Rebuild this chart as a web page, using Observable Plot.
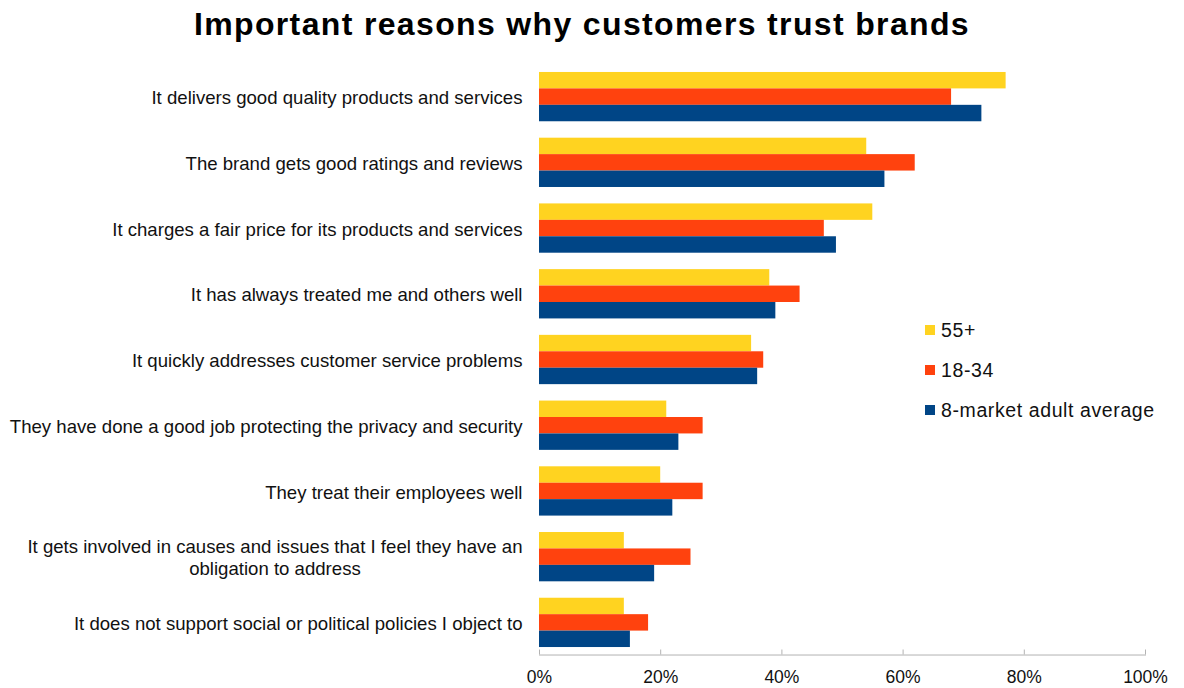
<!DOCTYPE html>
<html><head><meta charset="utf-8">
<script src="https://cdn.jsdelivr.net/npm/d3@7"></script>
<script src="https://cdn.jsdelivr.net/npm/@observablehq/plot@0.6"></script>
<style>
body{margin:0;background:#fff;font-family:"Liberation Sans",Arial,sans-serif;}
#wrap{position:relative;width:1184px;height:688px;overflow:hidden;}
#title{height:56px;margin:0;padding:1px 20px 0 0;box-sizing:border-box;text-align:center;font-weight:bold;font-size:32px;letter-spacing:1.35px;line-height:46px;color:#000;}
#legend{position:absolute;left:925px;top:310px;font-size:19.5px;letter-spacing:0.6px;color:#111;}
#legend .row{height:40px;display:flex;align-items:center;}
#legend .sw{width:10px;height:10px;margin-right:6px;}
#chart svg{display:block;}
</style>
</head><body>
<div id="wrap">
<div id="title">Important reasons why customers trust brands</div>
<div id="chart"></div>
<div id="legend"></div>
</div>
<script>
const categories = [
  "It delivers good quality products and services",
  "The brand gets good ratings and reviews",
  "It charges a fair price for its products and services",
  "It has always treated me and others well",
  "It quickly addresses customer service problems",
  "They have done a good job protecting the privacy and security",
  "They treat their employees well",
  "It gets involved in causes and issues that I feel they have an\nobligation to address",
  "It does not support social or political policies I object to"
];
const seriesNames = ["55+", "18-34", "8-market adult average"];
const seriesColors = ["#FFD320", "#FF420E", "#004586"];
const values55 = [77, 54, 55, 38, 35, 21, 20, 14, 14];
const values1834 = [68, 62, 47, 43, 37, 27, 27, 25, 18];
const valuesAvg = [73, 57, 49, 39, 36, 23, 22, 19, 15];
const xTicks = [0, 20, 40, 60, 80, 100];

const seriesValues = [values55, values1834, valuesAvg];
const data = [];
categories.forEach((c, i) => {
  seriesNames.forEach((s, j) => data.push({category: c, series: s, value: seriesValues[j][i]}));
});

const chart = Plot.plot({
  width: 1184,
  height: 632,
  marginTop: 9.4,
  marginBottom: 34.4,
  marginLeft: 539,
  marginRight: 39,
  style: {fontFamily: "Liberation Sans, Arial, sans-serif", color: "#111", background: "#fff"},
  x: {domain: [0, 100], axis: null},
  y: {domain: seriesNames, padding: 0, axis: null, round: false},
  fy: {domain: categories, paddingInner: 0.25, paddingOuter: 0.1, round: false, axis: null},
  color: {domain: seriesNames, range: seriesColors},
  marks: [
    Plot.barX(data, {fy: "category", y: "series", x: "value", fill: "series"}),
    Plot.axisFy({anchor: "left", tickSize: 0, tickPadding: 17, fontSize: 18.6, lineHeight: 1.19, label: null, fill: "#111"}),
    Plot.axisX({anchor: "bottom", ticks: xTicks, tickFormat: d => d + "%", tickSize: -5, tickPadding: 21, dy: 7.5, fontSize: 17.5, label: null, stroke: "#b3b3b3", fill: "#111"}),
    Plot.frame({anchor: "bottom", stroke: "#b3b3b3", insetBottom: -7.5, facetAnchor: "bottom"})
  ]
});
document.getElementById("chart").appendChild(chart);

// Excel-style centring of wrapped category labels
chart.querySelectorAll("text").forEach(t => {
  const spans = t.querySelectorAll("tspan");
  if (spans.length > 1) {
    const w = spans[0].getComputedTextLength();
    t.setAttribute("text-anchor", "middle");
    spans.forEach(s => {
      const x0 = +(s.getAttribute("x") || 0);
      s.setAttribute("x", x0 - w / 2);
    });
  }
});

const legend = document.getElementById("legend");
seriesNames.forEach((s, j) => {
  const row = document.createElement("div");
  row.className = "row";
  const sw = document.createElement("div");
  sw.className = "sw";
  sw.style.background = seriesColors[j];
  const t = document.createElement("span");
  t.textContent = s;
  row.appendChild(sw);
  row.appendChild(t);
  legend.appendChild(row);
});
</script>
</body></html>
